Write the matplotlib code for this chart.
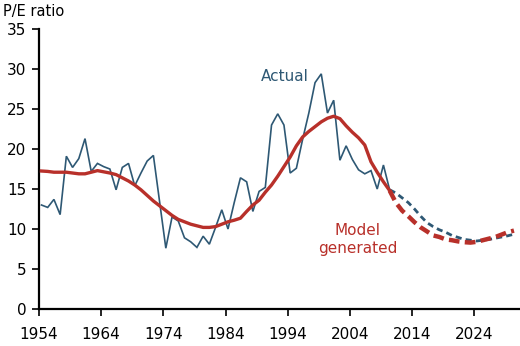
import matplotlib
matplotlib.use("Agg")
import matplotlib.pyplot as plt
import numpy as np

# ---- data ----
actual_years = list(range(1954, 2011))
actual_pe = [13.0, 12.7, 13.7, 11.8, 19.1, 17.7, 18.8, 21.3, 17.2, 18.2,
             17.8, 17.5, 14.9, 17.7, 18.2, 15.4, 17.0, 18.5, 19.2, 13.4,
             7.6, 11.5, 11.0, 8.9, 8.4, 7.7, 9.1, 8.1, 10.2, 12.4,
             10.0, 13.3, 16.4, 15.9, 12.2, 14.7, 15.2, 23.0, 24.4, 23.0,
             17.0, 17.6, 21.2, 24.5, 28.3, 29.4, 24.5, 26.1, 18.6, 20.4,
             18.7, 17.4, 16.9, 17.3, 15.0, 18.0, 14.9]

proj_years = list(range(2010, 2031))
actual_proj = [14.9, 14.5, 13.9, 13.3, 12.5, 11.6, 10.8, 10.3, 9.9, 9.6,
               9.2, 8.95, 8.7, 8.6, 8.5, 8.6, 8.7, 8.85, 9.0, 9.15, 9.35]

model_years = list(range(1954, 2031))
model_pe = [17.25, 17.2, 17.1, 17.1, 17.1, 17.0, 16.9, 16.9, 17.1, 17.3,
            17.15, 17.0, 16.8, 16.4, 16.0, 15.5, 14.9, 14.2, 13.5, 12.9,
            12.3, 11.7, 11.2, 10.9, 10.6, 10.4, 10.2, 10.2, 10.3, 10.6,
            10.9, 11.1, 11.35, 12.2, 13.0, 13.6, 14.6, 15.5, 16.6, 17.8,
            19.0, 20.4, 21.5, 22.2, 22.8, 23.4, 23.85, 24.1, 23.8, 22.9,
            22.1, 21.4, 20.5, 18.4, 17.1, 15.9, 14.8, 13.3, 12.3, 11.6,
            10.85, 10.2, 9.7, 9.2, 9.0, 8.7, 8.6, 8.45, 8.35, 8.3,
            8.4, 8.6, 8.8, 9.0, 9.3, 9.6, 9.8]
model_split_year = 2010

x_ticks = [1954, 1964, 1974, 1984, 1994, 2004, 2014, 2024]
y_ticks = [0, 5, 10, 15, 20, 25, 30, 35]

BLUE = "#2e5874"
RED = "#b8302a"
OFFSET = 0.4

plt.rcParams['font.family'] = ['DejaVu Sans']

fig = plt.figure(figsize=(5.2, 3.46), dpi=100)
ax = fig.add_axes([0.075, 0.107, 0.923, 0.809])

my = np.array(model_years) + OFFSET
mv = np.array(model_pe)
split = model_years.index(model_split_year)

ax.plot(np.array(actual_years) + OFFSET, actual_pe, color=BLUE, lw=1.2,
        solid_joinstyle='miter', zorder=2)
ax.plot(np.array(proj_years) + OFFSET, actual_proj, color=BLUE, lw=2.0,
        dashes=(2.2, 1.5), zorder=2)
ax.plot(my[:split + 1], mv[:split + 1], color=RED, lw=2.4, zorder=3)
ax.plot(my[split:], mv[split:], color=RED, lw=3.2, dashes=(2.4, 1.2), zorder=3)

ax.set_xlim(1954, 2031.2)
ax.set_ylim(0, 35)
ax.set_xticks(x_ticks)
ax.set_xticklabels([str(t) for t in x_ticks])
ax.set_yticks(y_ticks)
ax.set_yticklabels([str(t) for t in y_ticks])

for s in ['top', 'right']:
    ax.spines[s].set_visible(False)
for s in ['left', 'bottom']:
    ax.spines[s].set_linewidth(1.6)
    ax.spines[s].set_color('black')

ax.tick_params(axis='both', direction='out', length=5, width=1.2,
               labelsize=11, colors='black')
ax.tick_params(axis='x', pad=8)
ax.tick_params(axis='y', pad=4)

fig.text(0.006, 0.966, "P/E ratio", fontsize=10.5, ha='left', va='center')

ax.text(1997.4, 29.1, "Actual", color=BLUE, fontsize=11, ha='right', va='center')
ax.text(2005.2, 8.7, "Model\ngenerated", color=RED, fontsize=11,
        ha='center', va='center', linespacing=1.2)

fig.savefig("out.png", dpi=100)
